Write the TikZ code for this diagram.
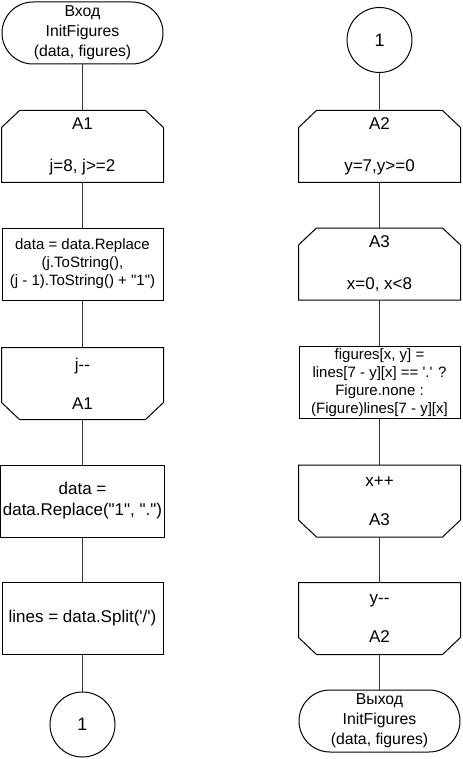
\documentclass[tikz,border=0pt]{standalone}
\usepackage{fontspec}
\setmainfont{Liberation Sans}[Ligatures=TeXOff]
\usetikzlibrary{positioning}

\tikzset{
  block/.style={line width=0.5pt, align=center, inner sep=1pt,
    font=\fontsize{8.5}{10.5}\selectfont},
  dense/.style={font=\fontsize{7.5}{9}\selectfont},
  procbox/.style={block, draw=black, rectangle, minimum width=80.5pt, minimum height=36pt},
  loopbox/.style={block, rectangle, minimum width=80.5pt, minimum height=35.5pt},
  termbox/.style={block, draw=black, rectangle, rounded corners=15.5pt,
    minimum width=80.5pt, minimum height=31pt, font=\fontsize{7.9}{10}\selectfont},
  connbox/.style={block, draw=black, circle, minimum size=32.5pt, font=\fontsize{9}{10}\selectfont},
  outline/.style={draw=black, line width=0.5pt},
  link/.style={draw=black!80, line width=0.5pt}
}

\begin{document}
\begin{tikzpicture}[x=0.5pt,y=-0.5pt]
  \useasboundingbox (0,0) rectangle (462,759);

  % Left column
  \node[termbox] (start) at (82.5,33) {Вход\\InitFigures\\(data, figures)};
  \node[loopbox] (a1beg) at (82.5,146.5) {A1\\[10.5pt]j=8, j>=2};
  \node[procbox, dense] (repl1) at (82.5,264) {data = data.Replace\\(j.ToString(),\\(j - 1).ToString() + "1")};
  \node[loopbox] (a1end) at (82.5,383.5) {j--\\[9pt]A1};
  \node[procbox] (repl2) at (82.5,501) {data =\\data.Replace("1", ".")};
  \node[procbox] (split) at (82.5,618.5) {lines = data.Split('/')};
  \node[connbox] (out1) at (82.5,724.5) {1};

  % Right column
  \node[connbox] (in1) at (379.5,40) {1};
  \node[loopbox] (a2beg) at (379.5,146.5) {A2\\[10.5pt]y=7,y>=0};
  \node[loopbox] (a3beg) at (379.5,264) {A3\\[10.5pt]x=0, x<8};
  \node[procbox, dense] (fill) at (379.5,382.5) {figures[x, y] =\\lines[7 - y][x] == '.' ?\\Figure.none :\\(Figure)lines[7 - y][x]};
  \node[loopbox] (a3end) at (379.5,501) {x++\\[9pt]A3};
  \node[loopbox] (a2end) at (379.5,618.5) {y--\\[9pt]A2};
  \node[termbox] (stop) at (379.5,721) {Выход\\InitFigures\\(data, figures)};

  % Loop limits, cut corners on top
  \foreach \n in {a1beg,a2beg,a3beg} {
    \draw[outline] ([yshift=-8.5pt]\n.north west) -- ([xshift=9pt]\n.north west)
      -- ([xshift=-9pt]\n.north east) -- ([yshift=-8.5pt]\n.north east)
      -- (\n.south east) -- (\n.south west) -- cycle;
  }
  % Loop ends, cut corners at the bottom
  \foreach \n in {a1end,a3end,a2end} {
    \draw[outline] (\n.north west) -- (\n.north east)
      -- ([yshift=8.5pt]\n.south east) -- ([xshift=-9pt]\n.south east)
      -- ([xshift=9pt]\n.south west) -- ([yshift=8.5pt]\n.south west) -- cycle;
  }

  % Links
  \foreach \a/\b in {start/a1beg,a1beg/repl1,repl1/a1end,a1end/repl2,repl2/split,split/out1,
                     in1/a2beg,a2beg/a3beg,a3beg/fill,fill/a3end,a3end/a2end,a2end/stop} {
    \draw[link] (\a.south) -- (\b.north);
  }
\end{tikzpicture}
\end{document}
